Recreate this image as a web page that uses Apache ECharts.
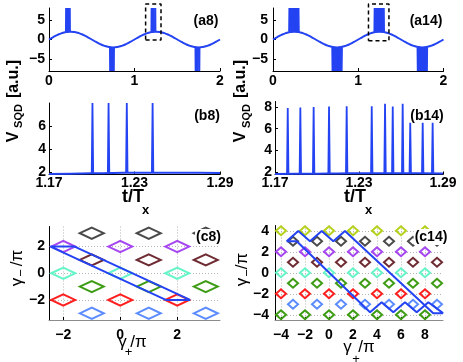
<!DOCTYPE html>
<html><head><meta charset="utf-8">
<script src="https://cdn.jsdelivr.net/npm/echarts@6/dist/echarts.min.js"></script>
<style>html,body{margin:0;padding:0;background:#fff}#c{width:463px;height:362px}</style>
</head><body><div id="c"></div>
<script>
// ---------------- data ----------------
const aTime = [0,0.05,0.1,0.15,0.2,0.25,0.3,0.35,0.4,0.45,0.5,0.55,0.6,0.65,0.7,0.75,0.8,0.85,0.9,0.95,
  1,1.05,1.1,1.15,1.2,1.25,1.3,1.35,1.4,1.45,1.5,1.55,1.6,1.65,1.7,1.75,1.8,1.85,1.9,1.95,2];
const aSignal = [0,0.62,1.18,1.62,1.9,2,1.9,1.62,1.18,0.62,0,-0.62,-1.18,-1.62,-1.9,-2,-1.9,-1.62,-1.18,-0.62,
  0,0.62,1.18,1.62,1.9,2,1.9,1.62,1.18,0.62,0,-0.62,-1.18,-1.62,-1.9,-2,-1.9,-1.62,-1.18,-0.62,0];

const a8UpT = [0.2005,0.2118,0.2246,0.2427,1.2005,1.2118,1.2246,1.2427];
const a8UpPeak = [8,8,8,8,8,8,8,8];
const a8UpBase = [1.95,1.96,1.97,1.97,1.95,1.96,1.97,1.97];
const a8DownT = [0.7155,0.7268,0.7396,0.7577,1.7155,1.7268,1.7396,1.7577];
const a8DownPeak = [-8,-8,-8,-8,-8,-8,-8,-8];
const a8DownBase = [-1.95,-1.96,-1.97,-1.97,-1.95,-1.96,-1.97,-1.97];

const a14UpT = [0.194,0.203,0.2125,0.2235,0.2361,0.254,0.2635,0.269,0.2761,0.2815,0.2904,0.2975,
  1.194,1.203,1.2125,1.2235,1.2361,1.254,1.2635,1.269,1.2761,1.2815,1.2904,1.2975];
const a14UpPeak = [8,8,8,8,8,8,8,8,8,8,8,8, 8,8,8,8,8,8,8,8,8,8,8,8];
const a14DownT = [0.70,0.709,0.7185,0.7295,0.7421,0.76,0.7695,0.775,0.7821,0.7875,0.7964,0.8035,
  1.70,1.709,1.7185,1.7295,1.7421,1.76,1.7695,1.775,1.7821,1.7875,1.7964,1.8035];
const a14DownPeak = [-8,-8,-8,-8,-8,-8,-8,-8,-8,-8,-8,-8,-8,-8,-8,-8,-8,-8,-8,-8,-8,-8,-8,-8];
const a14UpBase = 1.95, a14DownBase = -1.95;

const a8Box = [1.13, 1.31, -0.1, 9];
const a14Box = [1.12, 1.36, -0.3, 9];

const bBaseT = [1.17,1.185,1.2,1.215,1.23,1.245,1.26,1.275,1.29];
const b8Base = [1.84,1.87,1.9,1.93,1.95,1.96,1.96,1.95,1.93];
const b8SpikeT = [1.2005,1.2118,1.2246,1.2427];
const b8SpikePeak = [8,8,8,8];
const b8SpikeBase = [1.92,1.94,1.95,1.96];
const b14Base = [1.84,1.86,1.88,1.9,1.91,1.92,1.92,1.91,1.9];
const b14SpikeT = [1.1791,1.1881,1.1976,1.2086,1.2212,1.2391,1.2486,1.2541,1.2612,1.2666,1.2755,1.2826];
const b14SpikePeak = [7.9,7.95,8.0,8.03,8.06,8.06,8.3,8.05,8.3,6.55,6.55,6.55];
const b14SpikeBase = [1.86,1.87,1.88,1.9,1.91,1.92,1.92,1.92,1.91,1.91,1.91,1.9];

const c8EvenX = [-2,0,2];
const c8OddX = [-1,1,3];
const c8RowY = [3,2,1,0,-1,-2,-3];
const c14EvenX = [-4,-2,0,2,4,6,8];
const c14OddX = [-3,-1,1,3,5,7,9];
const c14RowY = [4,3,2,1,0,-1,-2,-3,-4];
const diamondHalf = 0.42;

const c8TrajX = [-2.45,-1.6,2.45,1.6,-2.45];
const c8TrajY = [2,2,-2,-2,2];
const c14TrajX = [-3.53,-2.69,3.42,4.39,5.36,6.33,7.31,8.28,9.5,8.69,1.33,0.36,-0.61,-1.58,-2.56,-3.53];
const c14TrajY = [3,3,-3.77,-2.81,-3.77,-2.81,-3.77,-2.81,-3.85,-3.85,3.98,3,3.98,3,3.98,3];

const aXTicks = [0,1,2], aYTicks = [-5,0,5];
const bXTicks = [1.17,1.23,1.29], b8YTicks = [2,4,6], b14YTicks = [2,4,6,8];
const c8XTicks = [-2,0,2], c8YTicks = [-2,0,2];
const c14XTicks = [-4,-2,0,2,4,6,8], c14YTicks = [-4,-2,0,2,4];

// ---------------- styles ----------------
const BLUE = '#2443f2';
const FONT = '"Liberation Sans", Arial, sans-serif';
const rowColors8 = ['#4a4a4a','#a546f0','#6e2b33','#66f5c8','#3d9c14','#ff1f1f','#5c8cff'];
const rowColors14 = ['#b5d11c','#4a4a4a','#a546f0','#6e2b33','#66f5c8','#3d9c14','#ff1f1f','#5c8cff','#3d9c14'];

const fmt = v => (v < 0 ? '\u2212' + Math.abs(v) : String(v));

function axis(gi, min, max, ticks, margin, grid, lineColor) {
  return {
    gridIndex: gi, type: 'value', min, max,
    axisLine: {show: true, onZero: false, lineStyle: {color: lineColor || '#000', width: 1}},
    axisTick: {show: true, inside: true, length: 3, customValues: ticks, lineStyle: {color: '#000'}},
    axisLabel: {show: true, customValues: ticks, margin, formatter: fmt, color: '#000',
      fontSize: 14, fontWeight: 'bold', fontFamily: FONT},
    splitLine: {show: !!grid, lineStyle: {type: [1, 2], color: '#b5b5b5', width: 1}}
  };
}

const grids = [
  {left: 49, top: 8, width: 171, height: 63},
  {left: 273, top: 8, width: 170.5, height: 63},
  {left: 49, top: 103, width: 171, height: 71.5},
  {left: 275, top: 101.5, width: 168, height: 73},
  {left: 49, top: 226.5, width: 171, height: 93.5},
  {left: 275, top: 225.5, width: 168, height: 94.5}
];

const xAxes = [
  axis(0, 0, 2, aXTicks, 3),
  axis(1, 0, 2, aXTicks, 3),
  axis(2, 1.17, 1.29, bXTicks, 2),
  axis(3, 1.17, 1.29, bXTicks, 2),
  axis(4, -2.5, 3.5, c8XTicks, 8, true, '#8c8c8c'),
  axis(5, -4.5, 9.5, c14XTicks, 8, true, '#8c8c8c')
];
const yAxes = [
  axis(0, -8, 8, aYTicks, 4),
  axis(1, -8, 8, aYTicks, 5),
  axis(2, 1.8, 8, b8YTicks, 3),
  axis(3, 1.8, 8.5, b14YTicks, 3),
  axis(4, -3.5, 3.5, c8YTicks, 4, true),
  axis(5, -4.5, 4.5, c14YTicks, 6, true)
];

const zip = (xs, ys) => xs.map((x, i) => [x, ys[i]]);

function curve(idx, xs, ys, smooth) {
  return {type: 'line', xAxisIndex: idx, yAxisIndex: idx, data: zip(xs, ys), showSymbol: false,
    smooth: smooth, lineStyle: {color: BLUE, width: 2}, z: 3, silent: true};
}

function spikes(idx, ts, bases, peaks, w, lw) {
  const data = ts.map((t, i) => [t, Array.isArray(bases) ? bases[i] : bases, peaks[i]]);
  return {type: 'custom', xAxisIndex: idx, yAxisIndex: idx, data, encode: {x: 0, y: [1, 2]}, z: 4, silent: true,
    renderItem: (p, api) => {
      const t = api.value(0), b = api.value(1), h = api.value(2);
      return {type: 'polyline', shape: {points: [api.coord([t - w, b]), api.coord([t, h]), api.coord([t + w, b])]},
        style: {stroke: BLUE, lineWidth: lw, fill: null}};
    }};
}

function box(idx, bx) {
  const d = [[bx[0], bx[2]], [bx[1], bx[2]], [bx[1], bx[3]], [bx[0], bx[3]], [bx[0], bx[2]]];
  return {type: 'line', xAxisIndex: idx, yAxisIndex: idx, data: d, showSymbol: false, clip: false, z: 6,
    lineStyle: {color: '#000', width: 1.5, type: [4, 3]}, silent: true};
}

function diamonds(idx, rowsY, even, odd, colors, evenFirst) {
  const out = [];
  rowsY.forEach((y, r) => {
    const useEven = (r % 2 === 0) === evenFirst;
    const xs = useEven ? even : odd;
    const col = colors[r];
    out.push({type: 'custom', xAxisIndex: idx, yAxisIndex: idx, data: xs.map(x => [x, y]), encode: {x: 0, y: 1},
      z: 2, silent: true,
      renderItem: (p, api) => {
        const x = api.value(0), yy = api.value(1);
        const pts = [api.coord([x - diamondHalf, yy]), api.coord([x, yy + diamondHalf]),
          api.coord([x + diamondHalf, yy]), api.coord([x, yy - diamondHalf])];
        return {type: 'polygon', shape: {points: pts}, style: {fill: null, stroke: col, lineWidth: 2}};
      }});
  });
  return out;
}

const series = [
  curve(0, aTime, aSignal, true),
  spikes(0, a8UpT, a8UpBase, a8UpPeak, 0.002, 2),
  spikes(0, a8DownT, a8DownBase, a8DownPeak, 0.002, 2),
  box(0, a8Box),
  curve(1, aTime, aSignal, true),
  spikes(1, a14UpT, a14UpBase, a14UpPeak, 0.003, 2.2),
  spikes(1, a14DownT, a14DownBase, a14DownPeak, 0.003, 2.2),
  box(1, a14Box),
  curve(2, bBaseT, b8Base, true),
  spikes(2, b8SpikeT, b8SpikeBase, b8SpikePeak, 0.0005, 1.8),
  curve(3, bBaseT, b14Base, true),
  spikes(3, b14SpikeT, b14SpikeBase, b14SpikePeak, 0.0005, 1.8),
  ...diamonds(4, c8RowY, c8EvenX, c8OddX, rowColors8, false),
  ...diamonds(5, c14RowY, c14EvenX, c14OddX, rowColors14, true),
  curve(4, c8TrajX, c8TrajY, false),
  curve(5, c14TrajX, c14TrajY, false)
];

function txt(x, y, text, size, weight, rot, extra) {
  return Object.assign({type: 'text', x, y, rotation: rot ? Math.PI / 2 : 0, z: 100, silent: true,
    style: Object.assign({text, x: 0, y: 0, fill: '#000', font: `${weight} ${size}px ${FONT}`,
      textAlign: 'center', textVerticalAlign: 'middle', align: 'center', verticalAlign: 'middle'}, extra || {})});
}
const labelBg = {backgroundColor: '#fff', padding: [1, 1]};

const graphic = [
  txt(13.2, 137, 'V', 16, 'bold', true), txt(18.5, 116, 'SQD', 11, 'bold', true), txt(13.2, 79, '[a.u.]', 16, 'bold', true),
  txt(240.7, 137, 'V', 16, 'bold', true), txt(246.5, 116, 'SQD', 11, 'bold', true), txt(240.7, 79, '[a.u.]', 16, 'bold', true),
  txt(133, 197, 't/T', 18, 'bold'), txt(145.5, 210.5, 'x', 13, 'bold'),
  txt(355, 197, 't/T', 18, 'bold'), txt(368.5, 210.5, 'x', 13, 'bold'),
  txt(122.5, 342.5, '\u03b3', 17, 'normal'), txt(128.5, 352.5, '+', 13, 'normal'), txt(138.5, 342.5, '/\u03c0', 17, 'normal'),
  txt(347.5, 347, '\u03b3', 17, 'normal'), txt(356, 359, '+', 13, 'normal'), txt(366.5, 347, '/\u03c0', 17, 'normal'),
  txt(17.5, 282, '\u03b3', 17, 'normal', true), txt(21.5, 273, '\u2212', 13, 'normal', true), txt(17.5, 258, '/\u03c0', 17, 'normal', true),
  txt(242.5, 282, '\u03b3', 17, 'normal', true), txt(247, 273, '\u2212', 13, 'normal', true), txt(242.5, 261, '/\u03c0', 17, 'normal', true),
  txt(206, 21, '(a8)', 14, 'bold'), txt(426, 21.5, '(a14)', 14, 'bold'),
  txt(207, 116, '(b8)', 14, 'bold'), txt(427, 116, '(b14)', 14, 'bold'),
  txt(208.5, 237, '(c8)', 14, 'bold', false, labelBg), txt(431, 237, '(c14)', 14, 'bold', false, labelBg)
];

const chart = echarts.init(document.getElementById('c'), null, {renderer: 'canvas'});
chart.setOption({
  animation: false,
  backgroundColor: '#fff',
  grid: grids, xAxis: xAxes, yAxis: yAxes, series, graphic
});
</script></body></html>
